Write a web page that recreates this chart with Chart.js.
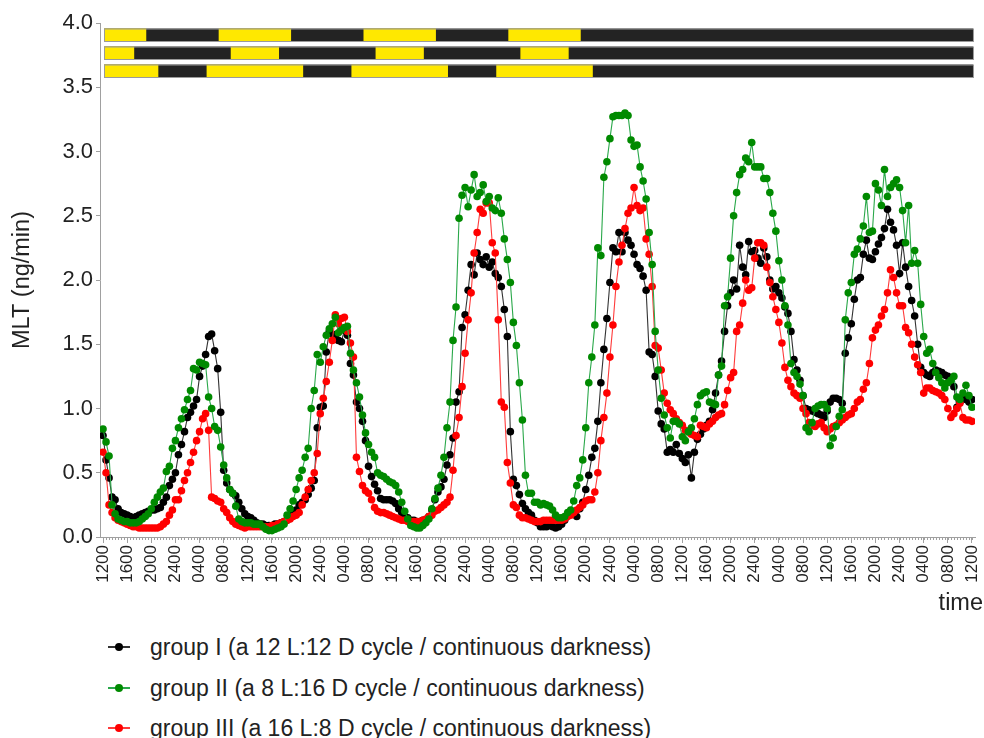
<!DOCTYPE html>
<html><head><meta charset="utf-8">
<script src="https://cdn.jsdelivr.net/npm/chart.js@4.4.1/dist/chart.umd.min.js"></script>
<style>
html,body{margin:0;padding:0;background:#fff;}
#wrap{position:relative;width:984px;height:738px;overflow:hidden;}
#c{position:absolute;left:0;top:0;}
#legend{position:absolute;left:0;top:0;width:984px;font-family:"Liberation Sans",Arial,sans-serif;font-size:23px;color:#222;}
.item{position:absolute;left:108px;height:28px;line-height:28px;white-space:nowrap;}
.mk{position:absolute;left:0;top:13px;width:22px;height:1.5px;}
.dot{position:absolute;left:7px;top:10px;width:8px;height:8px;border-radius:50%;}
.tx{position:absolute;left:42px;top:0;}
</style></head><body>
<div id="wrap"><canvas id="c" width="984" height="620" style="width:984px;height:620px"></canvas><div id="legend"></div></div>
<script>
// sampling interval of the measurements (hours); first sample at 12:00 on day 1
const SAMPLE_STEP_HOURS = 0.5;

const seriesNames = [
  'group I (a 12 L:12 D cycle / continuous darkness)',
  'group II (a 8 L:16 D cycle / continuous darkness)',
  'group III (a 16 L:8 D cycle / continuous darkness)'
];

const groupI = [
 0.79,0.60,0.46,0.31,0.29,0.22,0.19,0.18,0.17,0.16, 0.15,0.16,0.17,0.18,0.19,0.20,0.21,0.21,0.22,0.23,
 0.27,0.31,0.40,0.45,0.50,0.64,0.72,0.82,0.93,0.97, 1.02,1.07,1.25,1.33,1.42,1.56,1.58,1.45,1.31,0.97,
 0.52,0.42,0.37,0.34,0.32,0.27,0.22,0.18,
 0.16,0.15,0.13,0.11,0.10,0.10,0.09,0.09,0.09,0.10, 0.10,0.11,0.12,0.13,0.16,0.18,0.21,0.25,0.27,0.29,
 0.33,0.38,0.44,0.85,1.01,1.02,1.44,1.60,1.58,1.55, 1.53,1.52,1.61,1.57,1.35,1.26,1.05,1.00,0.90,0.75,
 0.55,0.47,0.41,0.36,0.30,0.29,0.29,0.29,
 0.28,0.26,0.22,0.19,0.16,0.15,0.13,0.13,0.12,0.12, 0.13,0.13,0.16,0.21,0.29,0.35,0.39,0.45,0.56,0.64,
 0.77,1.05,1.13,1.63,1.73,1.92,2.12,2.04,2.21,2.16, 2.12,2.18,2.10,2.14,2.05,2.02,1.95,1.77,1.56,0.82,
 0.45,0.40,0.33,0.26,0.22,0.19,0.17,0.13,
 0.11,0.08,0.08,0.08,0.09,0.08,0.07,0.08,0.10,0.13, 0.17,0.19,0.18,0.16,0.22,0.27,0.37,0.48,0.62,0.69,
 0.90,1.20,1.46,1.70,1.98,2.25,2.22,2.37,2.22,2.37, 2.31,2.27,2.20,2.12,2.09,2.03,1.92,1.44,1.42,1.25,
 0.98,0.88,0.84,0.66,0.68,0.66,0.72,0.65,
 0.61,0.58,0.64,0.46,0.66,0.76,0.80,0.84,0.87,0.90, 0.99,1.12,1.26,1.37,1.60,1.80,1.90,2.00,1.93,2.27,
 2.10,2.04,2.30,2.22,2.23,2.17,2.13,2.25,2.18,2.00, 1.93,1.95,1.90,1.86,1.79,1.74,1.60,1.38,1.30,1.22,
 1.10,1.00,0.99,0.98,0.97,0.96,0.95,0.93,
 0.98,1.05,1.08,1.08,1.07,1.04,1.43,1.55,1.66,1.85, 2.00,2.02,2.20,2.31,2.17,2.16,2.22,2.28,2.33,2.40,
 2.55,2.45,2.39,2.27,2.05,2.29,2.10,1.95,1.84,1.72, 1.50,1.32,1.28,1.26,1.25,1.28,1.30,1.29,1.28,1.26,
 1.25,1.22,1.17,1.01,1.05,1.09,1.07,1.05,1.07
];

const groupII = [
 0.84,0.74,0.63,0.25,0.18,0.14,0.13,0.12,0.12,0.11, 0.11,0.11,0.12,0.14,0.16,0.18,0.22,0.27,0.31,0.35,
 0.38,0.51,0.55,0.69,0.75,0.85,0.92,0.99,1.07,1.14, 1.31,1.30,1.36,1.35,1.34,1.09,1.00,0.86,0.83,0.70,
 0.56,0.46,0.37,0.34,0.24,0.14,0.12,0.11,
 0.11,0.11,0.10,0.10,0.10,0.08,0.06,0.05,0.05,0.06, 0.07,0.08,0.10,0.17,0.22,0.28,0.37,0.46,0.52,0.62,
 0.69,1.00,1.14,1.42,1.36,1.48,1.57,1.62,1.66,1.71, 1.59,1.61,1.63,1.64,1.43,1.30,1.20,1.09,0.95,0.81,
 0.72,0.66,0.62,0.50,0.48,0.47,0.45,0.43,
 0.42,0.40,0.35,0.27,0.20,0.14,0.09,0.08,0.07,0.07, 0.09,0.11,0.14,0.22,0.30,0.38,0.48,0.62,0.85,1.05,
 1.53,1.79,2.48,2.66,2.72,2.57,2.70,2.82,2.65,2.68, 2.74,2.61,2.65,2.56,2.54,2.64,2.52,2.32,2.16,1.98,
 1.67,1.49,1.20,0.91,0.48,0.34,0.34,0.27,
 0.27,0.25,0.26,0.25,0.24,0.21,0.17,0.15,0.15,0.16, 0.19,0.21,0.28,0.40,0.46,0.60,0.85,1.20,1.40,1.65,
 2.25,2.19,2.80,2.92,3.10,3.27,3.28,3.28,3.28,3.30, 3.28,3.09,3.04,3.05,2.88,2.77,2.63,2.37,2.12,1.60,
 1.30,1.08,0.95,0.85,0.77,0.90,0.90,0.88,
 0.78,0.75,0.82,0.85,0.92,1.03,1.10,1.12,1.13,1.05, 1.04,1.03,1.26,1.33,1.80,1.87,2.17,2.50,2.68,2.82,
 2.86,2.95,2.92,3.07,2.88,2.88,2.88,2.79,2.79,2.68, 2.52,2.38,2.15,2.00,1.80,1.65,1.35,1.28,1.25,1.19,
 1.10,0.85,0.82,0.89,1.00,1.02,1.03,1.03,
 1.00,0.71,0.77,0.86,0.94,0.99,1.69,1.90,1.98,2.20, 2.24,2.32,2.42,2.65,2.37,2.38,2.75,2.70,2.58,2.86,
 2.65,2.72,2.75,2.78,2.72,2.54,2.29,2.58,2.13,2.23, 2.13,1.81,1.56,1.43,1.46,1.35,1.28,1.24,1.20,1.16,
 1.20,1.22,1.25,1.09,1.07,1.12,1.18,1.10,1.01
];

const groupIII = [
 0.66,0.50,0.25,0.19,0.15,0.13,0.12,0.11,0.10,0.09, 0.08,0.08,0.07,0.07,0.07,0.07,0.07,0.07,0.07,0.08,
 0.10,0.12,0.17,0.21,0.29,0.29,0.36,0.44,0.50,0.58, 0.66,0.75,0.82,0.92,0.96,0.83,0.31,0.30,0.28,0.27,
 0.22,0.19,0.15,0.12,0.10,0.09,0.08,0.07,
 0.08,0.08,0.08,0.08,0.08,0.08,0.08,0.08,0.09,0.09, 0.10,0.11,0.12,0.13,0.14,0.16,0.17,0.19,0.25,0.31,
 0.37,0.44,0.50,0.65,0.96,1.08,1.21,1.36,1.53,1.73, 1.66,1.70,1.71,1.60,1.51,1.40,0.62,0.51,0.40,0.36,
 0.34,0.29,0.23,0.20,0.19,0.19,0.18,0.17,
 0.16,0.15,0.14,0.13,0.13,0.12,0.12,0.12,0.12,0.12, 0.13,0.14,0.16,0.17,0.20,0.21,0.23,0.25,0.27,0.31,
 0.52,0.79,0.93,1.17,1.43,1.69,1.90,2.21,2.37,2.55, 2.52,2.60,2.60,2.29,2.21,1.69,1.05,1.01,0.58,0.42,
 0.25,0.23,0.17,0.15,0.15,0.14,0.13,0.12,
 0.12,0.12,0.13,0.13,0.13,0.13,0.13,0.13,0.13,0.14, 0.16,0.17,0.19,0.21,0.23,0.25,0.28,0.29,0.29,0.35,
 0.50,0.75,0.93,1.12,1.40,1.65,1.95,2.14,2.27,2.40, 2.52,2.56,2.72,2.58,2.54,2.56,2.32,2.20,1.95,1.49,
 1.47,1.30,1.12,1.04,0.99,0.96,0.92,0.89,
 0.87,0.83,0.82,0.80,0.79,0.78,0.87,0.86,0.85,0.88, 0.90,0.93,0.95,0.96,1.03,1.14,1.24,1.28,1.60,1.65,
 1.82,2.00,1.92,1.94,2.17,2.29,2.29,2.27,2.10,1.98, 1.87,1.77,1.67,1.51,1.32,1.22,1.17,1.12,1.10,1.08,
 1.00,0.96,0.89,0.87,0.86,0.88,0.89,0.85,
 0.82,0.84,0.86,0.87,0.89,0.91,0.93,0.95,0.96,1.00, 1.05,1.07,1.15,1.20,1.35,1.55,1.61,1.65,1.72,1.77,
 1.90,2.08,2.02,1.90,1.80,1.80,1.63,1.59,1.50,1.40, 1.34,1.28,1.12,1.16,1.16,1.14,1.13,1.12,1.10,1.07,
 1.00,0.93,0.96,1.00,1.04,0.93,0.91,0.91,0.90
];

// x tick labels (clock time), one every 4 hours, over 6 days starting at 12:00
const dayTickLabels = ['1200','1600','2000','2400','0400','0800'];
const tickStepHours = 4;
const totalHours = 144;
const xTickLabels = [];
for (let d = 0; d < totalHours / 24; d++) xTickLabels.push(...dayTickLabels);
xTickLabels.push('1200');
const xTickHours = xTickLabels.map((_, i) => i * tickStepHours);

const yTicks = [0, 0.5, 1.0, 1.5, 2.0, 2.5, 3.0, 3.5, 4.0];

// light (L) periods in hours from start, per group; rest is darkness (D)
const lightI   = [[0, 7], [19, 31], [43, 55], [67, 79]];
const lightII  = [[0, 5], [21, 29], [45, 53], [69, 77]];
const lightIII = [[0, 9], [17, 33], [41, 57], [65, 81]];
const lightRows = [lightI, lightII, lightIII];

const colors = {
  I:   { point: '#000000', line: '#333333' },
  II:  { point: '#008a00', line: '#2aa84a' },
  III: { point: '#ff0000', line: '#ff3b3b' }
};

const FONT = '"Liberation Sans", Arial, sans-serif';
const toXY = arr => arr.map((v, i) => ({ x: i * SAMPLE_STEP_HOURS, y: v }));

const lightBarsPlugin = {
  id: 'lightBars',
  afterDatasetsDraw(chart) {
    const { ctx, scales: { x }, chartArea } = chart;
    const rowTops = [5.5, 23.5, 41.5];
    const h = 12.5;
    const x0 = x.getPixelForValue(0) + 1, x1 = x.getPixelForValue(totalHours) + 1;
    ctx.save();
    lightRows.forEach((row, r) => {
      const top = chartArea.top + rowTops[r];
      ctx.fillStyle = '#232323';
      ctx.fillRect(x0, top, x1 - x0, h);
      ctx.fillStyle = '#ffe800';
      row.forEach(([a, b]) => {
        const pa = x.getPixelForValue(a) + 1, pb = x.getPixelForValue(b) + 1;
        ctx.fillRect(pa, top, pb - pa, h);
      });
      ctx.strokeStyle = '#9a9a9a';
      ctx.lineWidth = 1;
      ctx.strokeRect(x0 + 0.5, top + 0.5, x1 - x0, h);
    });
    ctx.restore();
  },
  afterDraw(chart) {
    const { ctx, scales: { x }, chartArea } = chart;
    ctx.save();
    ctx.strokeStyle = '#a0a0a0';
    ctx.lineWidth = 1;
    ctx.beginPath();
    for (let t = 0; t <= totalHours + 1e-9; t += SAMPLE_STEP_HOURS) {
      const px = Math.round(x.getPixelForValue(t)) + 0.5;
      ctx.moveTo(px, chartArea.bottom);
      ctx.lineTo(px, chartArea.bottom + 3);
    }
    ctx.stroke();
    ctx.fillStyle = '#222';
    ctx.font = '23.5px ' + FONT;
    ctx.textAlign = 'right';
    ctx.textBaseline = 'middle';
    ctx.fillText('time', 983, 604);
    ctx.restore();
  }
};

const mk = (label, data, c, order) => ({
  label, data: toXY(data), order,
  borderColor: c.line, backgroundColor: c.point,
  pointBackgroundColor: c.point, pointBorderColor: c.point,
  pointRadius: 3.8, pointBorderWidth: 0, pointHoverRadius: 3.8,
  borderWidth: 1.1, tension: 0, fill: false
});

const chart = new Chart(document.getElementById('c'), {
  type: 'line',
  data: {
    datasets: [
      mk(seriesNames[0], groupI, colors.I, 2),
      mk(seriesNames[1], groupII, colors.II, 0),
      mk(seriesNames[2], groupIII, colors.III, 1)
    ]
  },
  options: {
    responsive: false,
    devicePixelRatio: 1,
    animation: false,
    events: [],
    layout: { padding: { top: 23, right: 9, left: 0, bottom: 0 } },
    plugins: { legend: { display: false }, tooltip: { enabled: false } },
    scales: {
      x: {
        type: 'linear',
        min: -SAMPLE_STEP_HOURS, max: totalHours + SAMPLE_STEP_HOURS,
        afterBuildTicks: s => { s.ticks = xTickHours.map(v => ({ value: v })); },
        afterFit: s => { s.height = 83; s.paddingLeft = 0; s.paddingRight = 0; },
        grid: { display: true, drawOnChartArea: false, drawTicks: true, tickLength: 6, color: '#a0a0a0' },
        border: { display: true, color: '#a0a0a0', width: 1 },
        ticks: {
          autoSkip: false, maxRotation: 90, minRotation: 90, padding: 2,
          color: '#222',
          font: { family: FONT, size: 17 },
          callback: (v, i) => xTickLabels[i]
        }
      },
      y: {
        min: 0, max: 4,
        afterBuildTicks: s => { s.ticks = yTicks.map(v => ({ value: v })); },
        afterFit: s => { s.width = 100; },
        grid: { display: true, drawOnChartArea: false, drawTicks: true, tickLength: 4, color: '#a0a0a0' },
        border: { display: true, color: '#a0a0a0', width: 1 },
        title: { display: true, text: 'MLT (ng/min)', color: '#222',
          font: { family: FONT, size: 23.5 }, padding: { top: 8, bottom: 0 } },
        ticks: {
          color: '#222', padding: 3,
          font: { family: FONT, size: 22 },
          callback: v => Number(v).toFixed(1)
        }
      }
    }
  },
  plugins: [lightBarsPlugin]
});

// HTML legend built from the chart's datasets
const legendEl = document.getElementById('legend');
const legendCenters = [647, 688, 728];
chart.data.datasets.forEach((ds, i) => {
  const it = document.createElement('div');
  it.className = 'item';
  it.style.top = (legendCenters[i] - 14) + 'px';
  it.innerHTML = '<span class="mk" style="background:' + ds.borderColor + '"></span>' +
    '<span class="dot" style="background:' + ds.pointBackgroundColor + '"></span>' +
    '<span class="tx"></span>';
  it.querySelector('.tx').textContent = ds.label;
  legendEl.appendChild(it);
});
</script>
</body></html>
